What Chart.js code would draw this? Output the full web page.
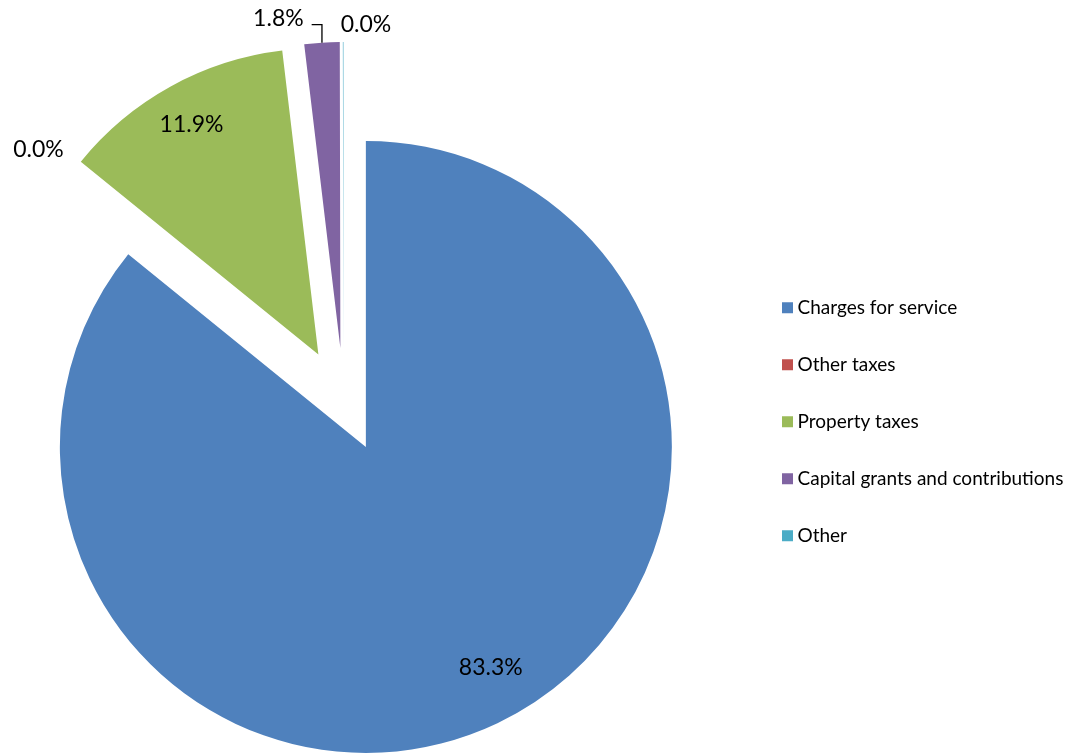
<!DOCTYPE html>
<html>
<head>
<meta charset="utf-8">
<script src="https://cdn.jsdelivr.net/npm/chart.js@4.4.1/dist/chart.umd.min.js"></script>
<style>
  html, body { margin: 0; padding: 0; background: #ffffff; overflow: hidden; }
  #wrap { width: 1081px; height: 755px; position: relative; overflow: hidden; }
  #inner { position: absolute; left: -62px; top: 0; width: 1143px; height: 755px; }
</style>
</head>
<body>
<div id="wrap"><div id="inner"><canvas id="c"></canvas></div></div>
<script>
// ---- data ----
const categories = ['Charges for service', 'Other taxes', 'Property taxes', 'Capital grants and contributions', 'Other'];
const values = [83.3, 0.0, 11.9, 1.8, 0.03];
const colors = ['#4F81BD', '#C0504D', '#9BBB59', '#8064A2', '#4BACC6'];

// ---- styling / layout ----
const FONT = 'Lato, "Liberation Sans", sans-serif';
const LEGEND_FONT_SIZE = 19;
const LEGEND_PAD = 38;
const CANVAS_W = 1143;
const LEGEND_LEFT = 811;          // chart area = [0, 811] in canvas px
const EXPLODE = 52;
// label placement relative to each (exploded) slice: angle shift (deg) and radius factor
const labelPlacement = [
  { da: -4.0, r: 0.830 },
  { da: 0.4,  r: 1.120 },
  { da: 0.0,  r: 0.859 },
  { da: -7.2, r: 1.096, leader: true },
  { da: 4.05, r: 1.058 }
];

// legend width is padding + box + half font + text + 10; choose right padding so legend starts at LEGEND_LEFT
const mctx = document.createElement('canvas').getContext('2d');
mctx.font = LEGEND_FONT_SIZE + 'px ' + FONT;
const maxTextW = Math.max(...categories.map(c => mctx.measureText(c).width));
const legendW = LEGEND_PAD + 1 + LEGEND_FONT_SIZE / 2 + maxTextW + 10;
const padRight = Math.max(0, CANVAS_W - LEGEND_LEFT - legendW);

const explodePlugin = {
  id: 'explode',
  beforeDatasetDraw(chart, args) {
    const ctx = chart.ctx;
    args.meta.data.forEach(arc => {
      const mid = (arc.startAngle + arc.endAngle) / 2;
      ctx.save();
      ctx.translate(Math.cos(mid) * EXPLODE, Math.sin(mid) * EXPLODE);
      arc.draw(ctx);
      ctx.restore();
    });
    return false;
  }
};

const labelPlugin = {
  id: 'sliceLabels',
  afterDatasetsDraw(chart) {
    const ctx = chart.ctx;
    const meta = chart.getDatasetMeta(0);
    const size = 23;
    ctx.save();
    ctx.font = size + 'px ' + FONT;
    ctx.fillStyle = '#000000';
    ctx.textAlign = 'center';
    ctx.textBaseline = 'middle';
    meta.data.forEach((arc, i) => {
      const p = labelPlacement[i];
      const mid = (arc.startAngle + arc.endAngle) / 2;
      const cx = arc.x + Math.cos(mid) * EXPLODE;
      const cy = arc.y + Math.sin(mid) * EXPLODE;
      const a = mid + p.da * Math.PI / 180;
      const lx = cx + Math.cos(a) * arc.outerRadius * p.r;
      const ly = cy + Math.sin(a) * arc.outerRadius * p.r;
      const text = values[i].toFixed(1) + '%';
      ctx.fillText(text, lx, ly);
      if (p.leader) {
        const w = ctx.measureText(text).width;
        const ax = cx + Math.cos(mid) * arc.outerRadius;
        const ay = cy + Math.sin(mid) * arc.outerRadius;
        const yLine = ly + size * 0.27;
        ctx.beginPath();
        ctx.moveTo(lx + w / 2 + 8, yLine);
        ctx.lineTo(ax, yLine);
        ctx.lineTo(ax, ay);
        ctx.strokeStyle = '#000000';
        ctx.lineWidth = 1.3;
        ctx.stroke();
      }
    });
    ctx.restore();
  }
};

Chart.defaults.font.family = FONT;

new Chart(document.getElementById('c'), {
  type: 'pie',
  data: {
    labels: categories,
    datasets: [{
      data: values,
      backgroundColor: colors,
      borderWidth: 0,
      offset: 0,
      hoverOffset: 0,
      radius: 306,
      clip: false
    }]
  },
  options: {
    responsive: true,
    maintainAspectRatio: false,
    animation: false,
    events: [],
    layout: { padding: { left: 0, right: padRight, top: 45, bottom: 0 } },
    plugins: {
      tooltip: { enabled: false },
      legend: {
        position: 'right',
        align: 'center',
        title: { display: true, text: '', padding: { top: 29.2, bottom: 0 }, font: { size: 12, lineHeight: 1.2 } },
        labels: {
          usePointStyle: true,
          pointStyle: 'rect',
          boxWidth: 1,
          boxHeight: 11,
          padding: LEGEND_PAD,
          color: '#000000',
          font: { family: FONT, size: LEGEND_FONT_SIZE }
        }
      }
    }
  },
  plugins: [explodePlugin, labelPlugin]
});
</script>
</body>
</html>
